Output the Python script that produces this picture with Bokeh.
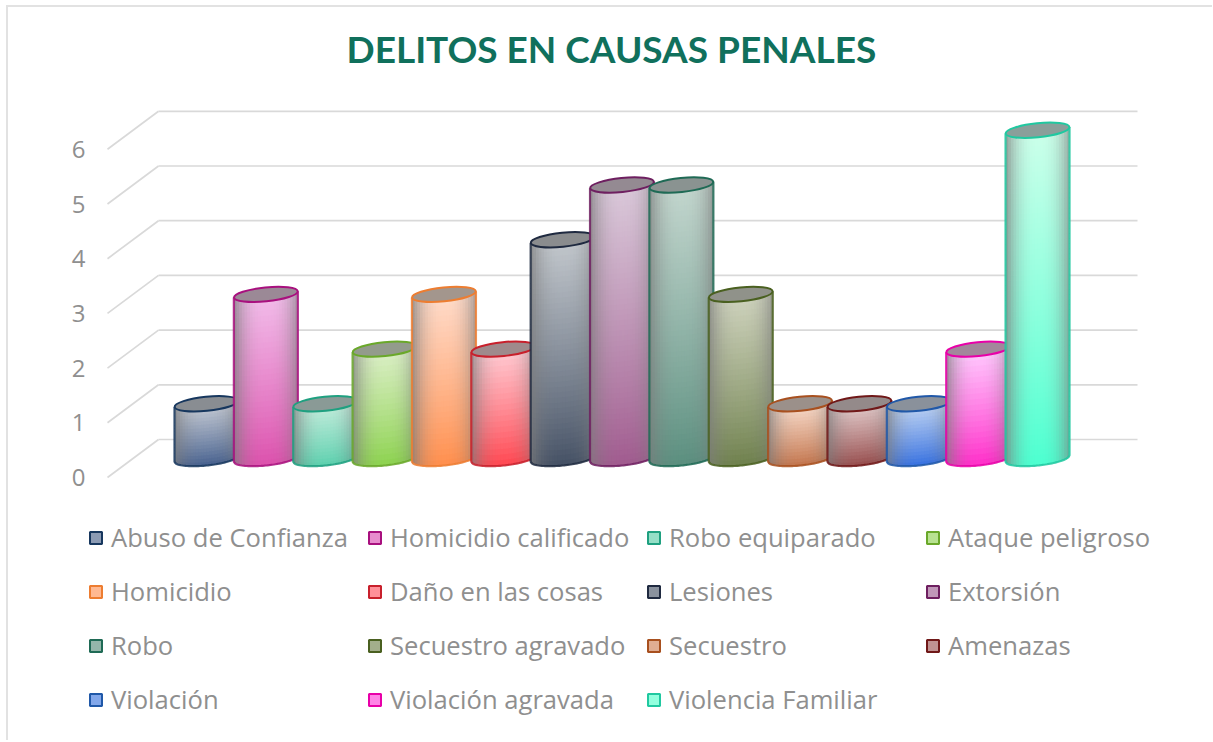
import math
from bokeh.plotting import figure
from bokeh.models import Legend, LegendItem, Title, Range1d, FixedTicker
from bokeh.embed import file_html
from bokeh.resources import INLINE

categories = ["Abuso de Confianza", "Homicidio calificado", "Robo equiparado", "Ataque peligroso",
              "Homicidio", "Daño en las cosas", "Lesiones", "Extorsión",
              "Robo", "Secuestro agravado", "Secuestro", "Amenazas",
              "Violación", "Violación agravada", "Violencia Familiar"]
values = [1, 3, 1, 2, 3, 2, 4, 5, 5, 3, 1, 1, 1, 2, 6]
y_ticks = [0, 1, 2, 3, 4, 5, 6]
top_colors = ["#c6cbd4", "#f2bdea", "#c4ecdc", "#dcefc8", "#ffdccb", "#ffccd4", "#c3c8cd", "#dac9da",
              "#c3d6ce", "#cfd3be", "#f8dccc", "#e2cccc", "#c0d4f2", "#ffccff", "#ccffea"]
bottom_colors = ["#46608e", "#dc50ac", "#5cd0ae", "#8cd24e", "#ff8e4c", "#ff4650", "#445064", "#a05a8e",
                 "#5a8e7e", "#6e804c", "#c2744c", "#964c4c", "#3670e0", "#ff2cc8", "#4cffd0"]
line_colors = ["#17375e", "#a8107e", "#1fa080", "#6aa82a", "#ed7d31", "#c8202c", "#1f2a40", "#6e1f60",
               "#1f6a55", "#4a6020", "#a8501f", "#701818", "#2058a8", "#e800a8", "#20c8a0"]

# page geometry (pixels on the page); the figure's content starts after its 2px border
MARGIN_X, MARGIN_Y = 6, 5
ORIGIN_X, ORIGIN_Y = MARGIN_X + 2, MARGIN_Y + 2
FRAME_L, FRAME_R = 88, 1155
FRAME_T, FRAME_B = 70, 740
FIG_W = 1204
X0, XSTEP = 206.0, 59.36      # centre of first cylinder, step
Y0, YSTEP = 477.0, 54.7       # front plane value 0, pixels per unit
BACK_DX, BACK_DY = 51 / XSTEP, 38 / YSTEP
BACK_RIGHT = (1137 - X0) / XSTEP
FRONT_LEFT = (107 - X0) / XSTEP
MID_DY = BACK_DY / 2
R_PX, B_PX, TILT = 32.0, 7.0, 0.1
GREY = "#d9d9d9"
TEXT = "#8f8f8f"


def hex2rgb(h):
    return tuple(int(h[i:i + 2], 16) for i in (1, 3, 5))


def mix(a, b, t):
    return tuple(a[i] + (b[i] - a[i]) * t for i in range(3))


def rgb2hex(c):
    return "#%02x%02x%02x" % tuple(max(0, min(255, int(round(v)))) for v in c)


p = figure(width=FIG_W, height=FRAME_B - ORIGIN_Y, frame_width=FRAME_R - FRAME_L, frame_height=FRAME_B - FRAME_T,
           output_backend="svg", toolbar_location=None,
           x_range=Range1d((FRAME_L - X0) / XSTEP, (FRAME_R - X0) / XSTEP),
           y_range=Range1d((Y0 - FRAME_B) / YSTEP, (Y0 - FRAME_T) / YSTEP),
           min_border_left=FRAME_L - ORIGIN_X, min_border_right=FIG_W - (FRAME_R - ORIGIN_X),
           min_border_top=FRAME_T - ORIGIN_Y, min_border_bottom=0,
           margin=(MARGIN_Y, 0, 0, MARGIN_X),
           styles={"border-top": "2px solid #e2e2e2", "border-left": "2px solid #e2e2e2"},
           title=None)
p.add_layout(Title(text="DELITOS EN CAUSAS PENALES", align="left", text_color="#10705c",
                   text_font="Lato", text_font_style="bold", text_font_size="37px", standoff=0,
                   offset=346 - FRAME_L), "above")
p.outline_line_color = None
p.xaxis.visible = False
p.xgrid.visible = False
p.ygrid.visible = False
ax = p.yaxis[0]
ax.ticker = FixedTicker(ticks=y_ticks)
ax.axis_line_color = None
ax.major_tick_line_color = None
ax.minor_tick_line_color = None
ax.major_tick_out = 0
ax.major_tick_in = 0
ax.major_label_text_font = "Open Sans"
ax.major_label_text_font_size = "24px"
ax.major_label_text_color = TEXT
ax.major_label_standoff = 3

# perspective grid
p.segment(x0=[FRONT_LEFT + BACK_DX] * len(y_ticks), x1=[BACK_RIGHT] * len(y_ticks),
          y0=[v + BACK_DY for v in y_ticks], y1=[v + BACK_DY for v in y_ticks], line_color=GREY, line_width=1.7)
p.segment(x0=[FRONT_LEFT] * len(y_ticks), x1=[FRONT_LEFT + BACK_DX] * len(y_ticks),
          y0=y_ticks, y1=[v + BACK_DY for v in y_ticks], line_color=GREY, line_width=1.7)

items = []
r = R_PX / XSTEP
tilt_y = TILT * R_PX / YSTEP
b = B_PX / YSTEP
ncols = 24
ox = 0.8 / XSTEP
oy = 0.8 / YSTEP
for k, name in enumerate(categories):
    v = values[k]
    ct, cb, cl = hex2rgb(top_colors[k]), hex2rgb(bottom_colors[k]), hex2rgb(line_colors[k])
    mid = rgb2hex(mix(ct, cb, 0.45))
    base = p.vbar(x=[k], bottom=[MID_DY], top=[MID_DY + v], width=1.5 * r * 0.5,
                  fill_color=mid, line_color=line_colors[k], line_width=2)
    L, R, B, T, C = [], [], [], [], []
    nrows = max(18, int(v * YSTEP / 5))
    for j in range(ncols):
        u0, u1 = -1 + 2 * j / ncols, -1 + 2 * (j + 1) / ncols
        u = (u0 + u1) / 2
        lo = MID_DY + tilt_y * u - b * math.sqrt(max(0, 1 - u * u))
        hi = MID_DY + v + tilt_y * u
        edge = min(1, abs(u - 0.03)) ** 2.6 * 0.72
        for i in range(nrows):
            f0, f1 = i / nrows, (i + 1) / nrows
            t = (f0 + f1) / 2
            c = mix(cb, ct, min(1, t ** 0.9))
            c = mix(c, (125, 125, 125), edge)
            L.append(k + u0 * r)
            R.append(k + u1 * r + (ox if j < ncols - 1 else 0))
            B.append(lo + (hi - lo) * f0)
            T.append(lo + (hi - lo) * f1 + oy)
            C.append(rgb2hex(c))
    p.quad(left=L, right=R, bottom=B, top=T, fill_color=C, line_color=None)
    xs, ys = [k - r], [MID_DY + v - tilt_y]
    for j in range(41):
        u = -1 + j / 20
        xs.append(k + u * r)
        ys.append(MID_DY + tilt_y * u - b * math.sqrt(max(0, 1 - u * u)))
    xs.append(k + r)
    ys.append(MID_DY + v + tilt_y)
    p.line(xs, ys, line_color=line_colors[k], line_width=2.2, line_alpha=0.85)
    p.ellipse(x=[k], y=[MID_DY + v], width=2 * r, height=2 * b, angle=TILT,
              fill_color=rgb2hex(mix((153, 153, 153), cl, 0.12)), line_color=line_colors[k], line_width=2.0)
    items.append(LegendItem(label=name, renderers=[base]))

legend = Legend(items=items, ncols=4, location=(0, FRAME_B - 726), orientation="horizontal",
                background_fill_alpha=0, border_line_color=None, padding=0, margin=0, spacing=0,
                glyph_width=15, glyph_height=15, label_standoff=8, label_width=256, label_height=54,
                label_text_font="Open Sans", label_text_font_size="25.6px", label_text_color=TEXT)
p.add_layout(legend, "center")

open("out.html", "w").write(file_html(p, INLINE))
